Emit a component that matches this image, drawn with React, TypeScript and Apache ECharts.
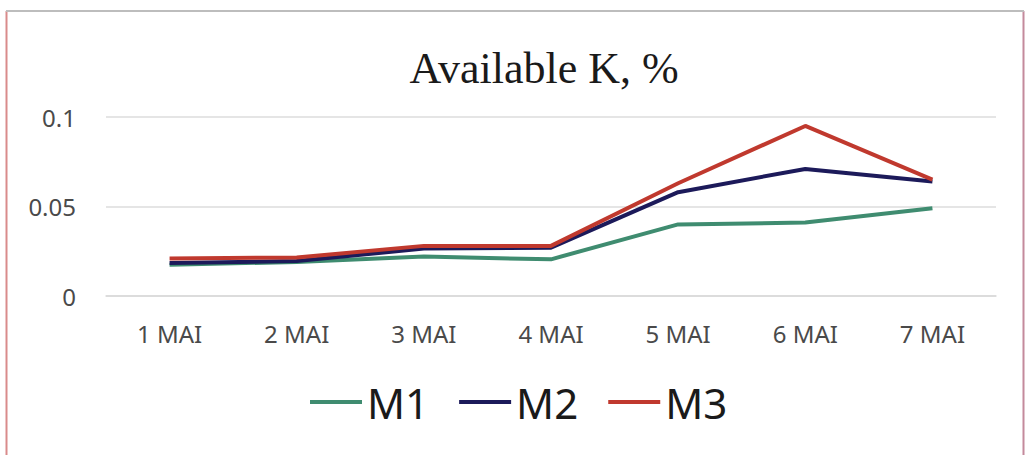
import React, { useEffect, useRef } from "react";
import * as echarts from "echarts";

const categories = ["1 MAI", "2 MAI", "3 MAI", "4 MAI", "5 MAI", "6 MAI", "7 MAI"];
const m1 = [0.0175, 0.019, 0.022, 0.0205, 0.04, 0.041, 0.049];
const m2 = [0.0185, 0.0195, 0.0265, 0.027, 0.058, 0.071, 0.064];
const m3 = [0.021, 0.0215, 0.028, 0.028, 0.063, 0.095, 0.065];
const seriesNames = ["M1", "M2", "M3"];
const seriesColors = ["#3f8c70", "#1c1a5a", "#c0392e"];

export default function App() {
  const ref = useRef<HTMLDivElement>(null);

  useEffect(() => {
    if (!ref.current) return;
    const chart = echarts.init(ref.current, undefined, { renderer: "svg" });
    const values = [m1, m2, m3];
    chart.setOption({
      animation: false,
      backgroundColor: "#ffffff",
      title: {
        text: "Available K, %",
        left: 539,
        top: 41,
        textAlign: "center",
        textStyle: {
          fontFamily: "Liberation Serif",
          fontWeight: "normal",
          fontSize: 44,
          color: "#1a1a1a",
        },
      },
      legend: {
        left: 310,
        top: 381,
        padding: 0,
        icon: "rect",
        itemWidth: 52,
        itemHeight: 4,
        itemGap: 30,
        data: seriesNames,
        textStyle: {
          fontFamily: "Noto Sans",
          fontSize: 42,
          color: "#1a1a1a",
        },
      },
      grid: { left: 106, right: 33, top: 117, bottom: 159, containLabel: false },
      xAxis: {
        type: "category",
        data: categories,
        boundaryGap: true,
        axisLine: { show: true, lineStyle: { color: "#d9d9d9", width: 1.5 } },
        axisTick: { show: false },
        axisLabel: {
          margin: 25,
          fontFamily: "Noto Sans",
          fontSize: 24,
          color: "#4a4a4a",
        },
      },
      yAxis: {
        type: "value",
        min: 0,
        max: 0.1,
        interval: 0.05,
        axisLine: { show: false },
        axisTick: { show: false },
        splitLine: { lineStyle: { color: "#dcdcdc", width: 1.5 } },
        axisLabel: {
          margin: 30,
          fontFamily: "Noto Sans",
          fontSize: 24,
          color: "#4a4a4a",
        },
      },
      series: seriesNames.map((name, i) => ({
        name,
        type: "line",
        data: values[i],
        symbol: "none",
        color: seriesColors[i],
        lineStyle: { width: 4, color: seriesColors[i] },
      })),
      graphic: [
        { type: "line", shape: { x1: 6.5, y1: 11, x2: 6.5, y2: 455 }, style: { stroke: "#d98b8b", lineWidth: 2 } },
        { type: "line", shape: { x1: 1023.5, y1: 11, x2: 1023.5, y2: 455 }, style: { stroke: "#c48a9c", lineWidth: 2 } },
        { type: "line", shape: { x1: 6, y1: 11, x2: 1024, y2: 11 }, style: { stroke: "#bdbdbd", lineWidth: 2 } },
      ],
    });
    return () => chart.dispose();
  }, []);

  return (
    <div
      ref={ref}
      style={{ position: "absolute", left: 0, top: 0, width: 1029, height: 455 }}
    />
  );
}
